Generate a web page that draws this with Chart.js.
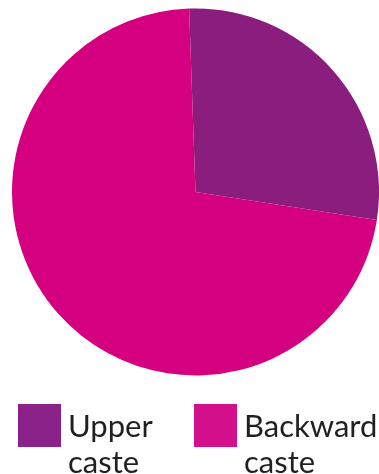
<!DOCTYPE html>
<html>
<head>
<meta charset="utf-8">
<script src="https://cdn.jsdelivr.net/npm/chart.js@4"></script>
<style>
  html, body { margin: 0; padding: 0; background: #fff; }
  #wrap { width: 379px; height: 474px; position: relative; }
</style>
</head>
<body>
<div id="wrap"><canvas id="casteChart"></canvas></div>
<script>
let labels = ['Upper caste', 'Backward caste'];
let shares = [28, 72];
let sliceColors = ['#8b1d7e', '#d5007f'];
let swatchColors = ['#8b2289', '#d40f8c'];

// legend drawn under the pie, two columns, labels wrapped on spaces
let casteLegend = {
  id: 'casteLegend',
  afterDraw: function(chart) {
    let ctx = chart.ctx;
    let cols = [18, 194];
    ctx.save();
    ctx.font = '31px Lato, "Open Sans", sans-serif';
    ctx.textBaseline = 'alphabetic';
    chart.data.labels.forEach(function(label, i) {
      let x = cols[i];
      ctx.fillStyle = swatchColors[i];
      ctx.fillRect(x, 404, 43, 43);
      ctx.fillStyle = '#231f20';
      label.split(' ').forEach(function(word, j) {
        ctx.fillText(word, x + 50, 437 + j * 36);
      });
    });
    ctx.restore();
  }
};

let config = {
  type: 'pie',
  data: {
    labels: labels,
    datasets: [{
      data: shares,
      backgroundColor: sliceColors,
      borderWidth: 0
    }]
  },
  options: {
    responsive: true,
    maintainAspectRatio: false,
    animation: false,
    rotation: -2,
    layout: { padding: { left: 12, right: 0, top: 8, bottom: 98 } },
    plugins: {
      legend: { display: false },
      tooltip: { enabled: false }
    }
  },
  plugins: [casteLegend]
};

let casteChart = new Chart(document.getElementById('casteChart'), config);
</script>
</body>
</html>
